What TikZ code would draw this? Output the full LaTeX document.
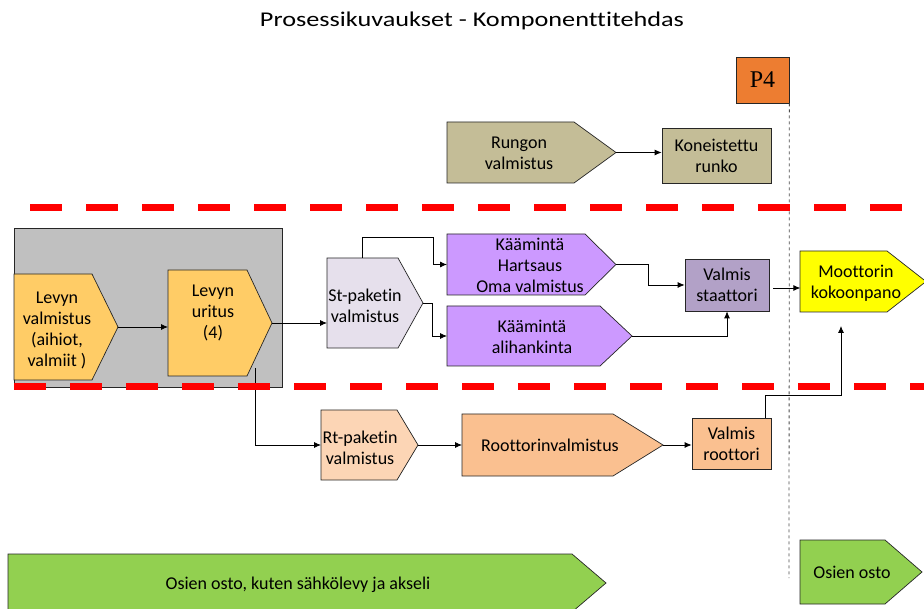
\documentclass[tikz,border=0pt]{standalone}
\usepackage{fontspec}
\setmainfont{Carlito}[Ligatures={NoCommon}]
\newfontfamily\serifp{Liberation Serif}
\usetikzlibrary{arrows.meta,calc}
\definecolor{tan}{HTML}{C4BD97}
\definecolor{lavl}{HTML}{E6E0EC}
\definecolor{purp}{HTML}{CC99FF}
\definecolor{staat}{HTML}{B2A1C7}
\definecolor{yel}{HTML}{FFFF00}
\definecolor{peachl}{HTML}{FCD5B5}
\definecolor{peach}{HTML}{FAC090}
\definecolor{grn}{HTML}{92D050}
\definecolor{yor}{HTML}{FFCC66}
\definecolor{gbox}{HTML}{C0C0C0}
\definecolor{pfour}{HTML}{ED7D31}
\definecolor{rd}{HTML}{FF0000}
\newcommand\pent[7]{%
  \path[shp,fill=#7] (#2,#3) -- (#4,#3) -- (#5,{(#3+#6)/2}) -- (#4,#6) -- (#2,#6) -- cycle;
  \coordinate (#1-tip) at (#5,{(#3+#6)/2});
  \coordinate (#1-w) at (#2,{(#3+#6)/2});}
\begin{document}
\begin{tikzpicture}[x=1pt,y=-1pt,
  shp/.style={draw=black!85, line width=0.7pt},
  lbl/.style={align=center, font=\fontsize{18}{21}\selectfont, inner sep=0pt},
  rbox/.style={shp, align=center, font=\fontsize{18}{21}\selectfont, inner sep=0pt},
  conn/.style={draw=black, line width=0.8pt, -{Latex[length=7pt,width=6pt]}},
  reddash/.style={draw=rd, line width=7pt, dash pattern=on 32pt off 24pt}]
\useasboundingbox (0,0) rectangle (924,609);

\node[font=\fontsize{21}{25}\selectfont, inner sep=0pt] (title) at (472,21) {\scalebox{1.25}[1]{Prosessikuvaukset - Komponenttitehdas}};

% P4 and vertical dashed line
\node[shp, fill=pfour, minimum width=53pt, minimum height=46pt, inner sep=0pt,
      font=\serifp\fontsize{24}{28}\selectfont] (p4) at (762.5,80) {P4};
\coordinate (vend) at (789,578);
\draw[black!70, line width=0.8pt, dash pattern=on 3pt off 3pt] (p4.south east) -- (vend);

% Rungon
\pent{ru}{447}{122}{574}{616}{183}{tan}
\node[lbl] (rul) at (519,153) {Rungon\\valmistus};
\node[rbox, fill=tan, minimum width=109pt, minimum height=55pt] (kr) at (716.5,155.5) {Koneistettu\\runko};
\draw[conn] (ru-tip) -- (ru-tip -| kr.west);

% red dashed lines
\coordinate (r1a) at (30,208); \coordinate (r1b) at (930,208);
\coordinate (r2a) at (14,387); \coordinate (r2b) at (930,387);

% gray box
\node[shp, fill=gbox, minimum width=268pt, minimum height=159pt, inner sep=0pt] (gb) at (148,307.5) {};

\pent{lv}{14}{274}{92}{118}{380}{yor}
\node[lbl] (lvl) at (57,330) {Levyn\\valmistus\\(aihiot,\\valmiit )};
\pent{lu}{168}{270}{247}{272}{376}{yor}
\node[lbl] (lul) at (213,313) {Levyn\\uritus\\(4)};
\coordinate (lu-b) at (255,368);
\draw[conn] (lv-tip) -- (lv-tip -| lu-w);

% St-paketin
\pent{st}{327}{258}{398}{423}{348}{lavl}
\node[lbl] (stl) at (365,306) {St-paketin\\valmistus};
\coordinate (st-n) at (362,258);
\draw[conn] (lu-tip) -- (lu-tip -| st-w);

\pent{kh}{447}{234}{585}{616}{295}{purp}
\node[lbl] (khl) at (530,265.5) {Käämintä\\Hartsaus\\Oma valmistus};
\pent{ka}{447}{306}{600}{632}{366}{purp}
\node[lbl] (kal) at (532,337) {Käämintä\\alihankinta};

\draw[conn] (st-n) |- (433,237) |- (kh-w);
\draw[conn] (st-tip) -| (432,336) -- (ka-w);

\node[rbox, fill=staat, minimum width=84pt, minimum height=52pt] (vs) at (727,285) {Valmis\\staattori};
\draw[conn] (kh-tip) -- ($(kh-tip)+(32,0)$) |- (vs.west);
\draw[conn] (ka-tip) -| (vs.south);

\pent{mk}{800}{251}{887}{926}{312}{yel}
\node[lbl] (mkl) at (856,283.5) {Moottorin\\kokoonpano};
\draw[conn] ($(vs.east)+(4,3)$) -- ($(vs.east)+(31,3)$);

% Rotor line
\pent{rt}{321}{410}{397}{418}{480}{peachl}
\node[lbl] (rtl) at (360,448) {Rt-paketin\\valmistus};
\pent{ro}{462}{414}{613}{663}{476}{peach}
\node[lbl] (rol) at (550,445) {Roottorinvalmistus};
\node[rbox, fill=peach, minimum width=79pt, minimum height=51pt] (vr) at (731.5,443.5) {Valmis\\roottori};
\draw[conn] (lu-b) |- (rt-w);
\draw[conn] (rt-tip) -- (ro-w);
\draw[conn] (ro-tip) -- (ro-tip -| vr.west);
\coordinate (mk-in) at (841,326);
\draw[conn] ($(vr.north east)+(-6,0)$) |- (841,395) -- (mk-in);

% red dashes on top
\draw[reddash] (r1a) -- (r1b);
\draw[reddash] (r2a) -- (r2b);

% green
\pent{g1}{8}{554}{572}{606}{612}{grn}
\node[lbl] (g1l) at (298,585) {Osien osto, kuten sähkölevy ja akseli};
\pent{g2}{800}{540}{885}{922}{604}{grn}
\node[lbl] (g2l) at (852,572) {Osien osto};
\end{tikzpicture}
\end{document}
